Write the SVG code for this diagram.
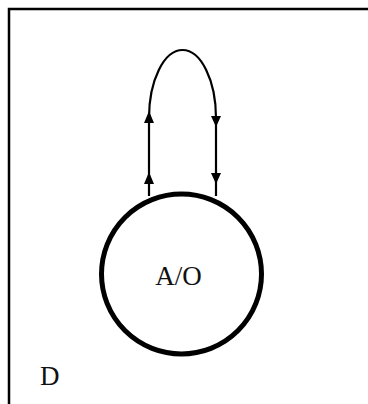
<svg xmlns="http://www.w3.org/2000/svg" width="368" height="404" viewBox="0 0 368 404">
<style>
.lbl{font-family:"Liberation Serif","Times New Roman",serif;font-size:27px;fill:#111}
.edge{fill:none;stroke:#000;stroke-width:2.2}
.arr{fill:#000}
</style>
<rect width="368" height="404" fill="#fff"/>
<g id="frame">
<path d="M9,404 L9,9 L368,9" fill="none" stroke="#000" stroke-width="2.5"/>
</g>
<g id="connectors">
<path class="edge" d="M149,196 L149,118 A33.5,68 0 0 1 216,118 L216,196"/>
<polygon class="arr" points="149,111 144,123 154,123"/>
<polygon class="arr" points="149,172 144,184 154,184"/>
<polygon class="arr" points="216,127 211,116 221,116"/>
<polygon class="arr" points="216,184 211,173 221,173"/>
</g>
<g id="node-AO">
<circle cx="181.5" cy="274" r="80" fill="none" stroke="#000" stroke-width="5"/>
<text class="lbl" x="178.5" y="285" text-anchor="middle">A/O</text>
</g>
<g id="label-D">
<text class="lbl" x="40" y="385">D</text>
</g>
</svg>
